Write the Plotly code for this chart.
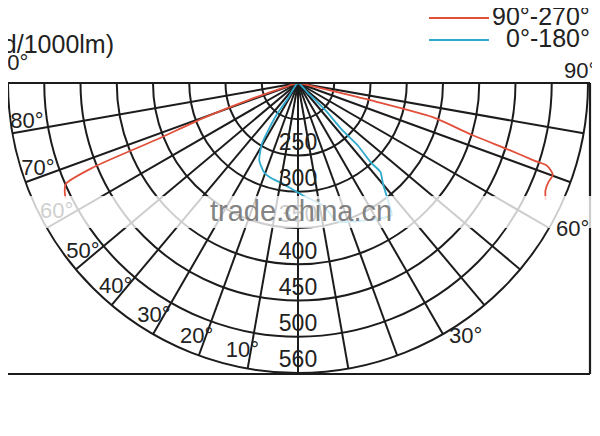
import math
import plotly.graph_objects as go

# ---------------- data ----------------
ring_values = [70, 140, 210, 280, 350, 420, 490, 560]
ring_labels = ["", "250", "300", "350", "400", "450", "500", "560"]
angle_ticks_left = [10, 20, 30, 40, 50, 60, 70, 80, 90]
angle_ticks_right = [30, 60, 90]

series_names = ["90°-270°", "0°-180°"]

# C90-C270 plane (angle in degrees from nadir, negative = left side)
red_theta = [-63.6, -65.0, -66.5, -67.6, -68.2, -69.7, -71.0, -73.0, 0.0,
             77.0, 76.5, 75.8, 73.4, 72.4, 71.8, 71.6, 70.2, 68.4, 66.5, 64.7]
red_r = [501, 497, 489, 427, 295, 194, 100, 20, 0,
         30, 158, 267, 350, 429, 480, 507, 523, 520, 521, 529]

# C0-C180 plane
cyan_theta = [0, -33.0, -34.0, -30.7, -26.6, -21.0, -16.7, -8.5, 3.3, 11.7, 14.6,
              16.7, 23.7, 30.3, 35.3, 36.7, 40.1, 42.8, 42.5, 43.7, 43.2, 45.0, 45.0, 0]
cyan_r = [0, 37, 75, 136, 167, 184, 190, 197, 219, 242, 268,
          280, 291, 304, 313, 296, 255, 234, 208, 169, 125, 77, 26, 0]

# ---------------- style ----------------
RMAX = ring_values[-1]
GRID = "#1c1c1c"
TXT = "#222222"
RED = "#e2503c"
CYAN = "#2fa9cc"
FONT = "Arial, Liberation Sans, sans-serif"

# the page body has an 8px margin: keep the figure inside the window
W, H = 584, 420
POLAR_W = 580          # 2 * radius
TOP, BOT = 75, 365     # top (centre line) and bottom of the half circle
FRAME_R = 582
CX, CY, RPX = POLAR_W / 2, TOP, POLAR_W / 2


def polar_to_paper(theta_deg, r_val):
    """paper position of a polar location (for labels outside the sector)"""
    rp = r_val / RMAX * RPX
    px = CX + rp * math.sin(math.radians(theta_deg))
    py = CY + rp * math.cos(math.radians(theta_deg))
    return px / W, 1 - py / H


fig = go.Figure()

fig.add_trace(go.Scatterpolar(
    r=red_r, theta=red_theta, mode="lines", name=series_names[0],
    line=dict(color=RED, width=1.8, shape="spline", smoothing=0.7),
    hoverinfo="skip"))
fig.add_trace(go.Scatterpolar(
    r=cyan_r, theta=cyan_theta, mode="lines", name=series_names[1],
    line=dict(color=CYAN, width=1.8, shape="spline", smoothing=0.6),
    hoverinfo="skip"))

# ring labels along the nadir spoke
fig.add_trace(go.Scatterpolar(
    r=ring_values[1:], theta=[0] * (len(ring_values) - 1),
    text=ring_labels[1:], mode="text", textposition="top center",
    textfont=dict(size=23, color=TXT, family=FONT),
    hoverinfo="skip", showlegend=False, cliponaxis=False))

# left angle labels (inside outer ring)
inner = [v for v in angle_ticks_left if v < 90]
fig.add_trace(go.Scatterpolar(
    r=[0.945 * RMAX] * len(inner), theta=[-(v + 1.7) for v in inner],
    text=[f"{v}°" for v in inner], mode="text",
    textposition="middle center",
    textfont=dict(size=22, color=TXT, family=FONT),
    hoverinfo="skip", showlegend=False, cliponaxis=False))

fig.update_layout(
    width=W, height=H,
    margin=dict(l=0, r=0, t=0, b=0),
    paper_bgcolor="white",
    showlegend=False,
    font=dict(family=FONT, color=TXT),
    polar=dict(
        domain=dict(x=[0, POLAR_W / W], y=[1 - BOT / H, 1 - TOP / H]),
        sector=[180, 360],
        bgcolor="white",
        angularaxis=dict(
            rotation=-90, direction="counterclockwise",
            tickmode="linear", tick0=0, dtick=10,
            showticklabels=False, ticks="",
            showgrid=True, gridcolor=GRID, gridwidth=1.6,
            showline=True, linecolor=GRID, linewidth=2),
        radialaxis=dict(
            range=[0, RMAX], tickmode="array", tickvals=ring_values,
            showticklabels=False, ticks="",
            showgrid=True, gridcolor=GRID, gridwidth=1.6,
            showline=False),
    ),
)

shapes = [
    # frame: top, right, bottom (left edge is cropped away in the original)
    dict(type="line", xref="paper", yref="paper", x0=0, x1=FRAME_R / W,
         y0=1 - TOP / H, y1=1 - TOP / H, line=dict(color=GRID, width=2)),
    dict(type="line", xref="paper", yref="paper", x0=FRAME_R / W, x1=FRAME_R / W,
         y0=1 - TOP / H, y1=1 - (BOT + 1) / H, line=dict(color=GRID, width=2.2)),
    dict(type="line", xref="paper", yref="paper", x0=0, x1=FRAME_R / W,
         y0=1 - (BOT + 1) / H, y1=1 - (BOT + 1) / H, line=dict(color=GRID, width=2)),
    # legend swatches
    dict(type="line", xref="paper", yref="paper", x0=421 / W, x1=481 / W,
         y0=1 - 10 / H, y1=1 - 10 / H, line=dict(color=RED, width=2)),
    dict(type="line", xref="paper", yref="paper", x0=421 / W, x1=481 / W,
         y0=1 - 32 / H, y1=1 - 32 / H, line=dict(color=CYAN, width=2)),
    # watermark band
    dict(type="rect", xref="paper", yref="paper", x0=0, x1=1,
         y0=1 - 220 / H, y1=1 - 188 / H, fillcolor="rgba(255,255,255,0.78)",
         line=dict(width=0), layer="above"),
]
fig.update_layout(shapes=shapes)

annotations = [
    dict(text="(cd/1000lm)", xref="paper", yref="paper", x=108 / W, y=1 - 36 / H,
         xanchor="right", yanchor="middle", showarrow=False,
         font=dict(size=25, color=TXT, family=FONT)),
    dict(text=series_names[0], xref="paper", yref="paper", x=1.0, y=1 - 8 / H,
         xanchor="right", yanchor="middle", showarrow=False,
         font=dict(size=25, color=TXT, family=FONT)),
    dict(text=series_names[1], xref="paper", yref="paper", x=1.0, y=1 - 30.5 / H,
         xanchor="right", yanchor="middle", showarrow=False,
         font=dict(size=25, color=TXT, family=FONT)),
    dict(text="trade.china.cn", xref="paper", yref="paper", x=293 / W, y=1 - 203 / H,
         xanchor="center", yanchor="middle", showarrow=False,
         font=dict(size=29, color="rgba(115,115,115,0.9)", family=FONT)),
]

# angle labels that sit outside the half-disc
outside = [(-90, -94.0, 0.99)] + [
    (v, v + d, f) for v, d, f in [(30, 3.6, 1.045), (60, 2.1, 1.07), (90, 2.5, 0.975)]
]
for v, th, f in outside:
    ax_, ay_ = polar_to_paper(th, f * RMAX)
    annotations.append(dict(
        text=f"{abs(v)}°", xref="paper", yref="paper", x=ax_, y=ay_,
        xanchor="center", yanchor="middle", showarrow=False,
        font=dict(size=22, color=TXT, family=FONT)))

fig.update_layout(annotations=annotations)

fig.write_html("out.html")
